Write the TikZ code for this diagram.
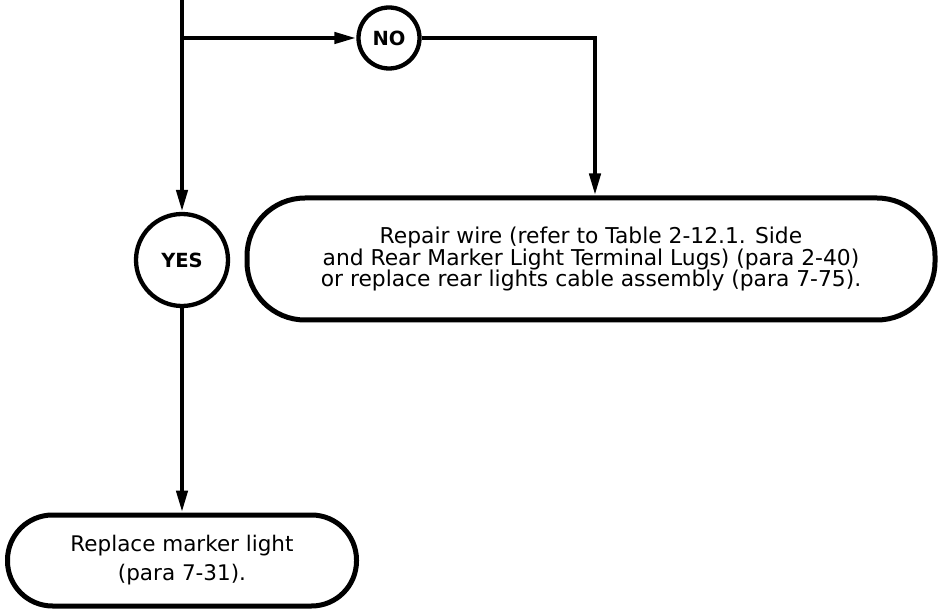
\documentclass[tikz,border=0pt]{standalone}
\usepackage{fontspec}
\setmainfont{DejaVu Sans}
\usetikzlibrary{arrows.meta}
\begin{document}
\begin{tikzpicture}[x=1pt,y=-1pt,
  conn/.style={line width=4.3pt},
  arr/.style={conn,-{Triangle[length=22pt,width=11pt]}},
  decision/.style={circle,draw,line width=4.3pt,inner sep=0pt,font=\fontsize{19.5}{22}\selectfont\bfseries},
  action/.style={draw,line width=5pt,rectangle,align=center,inner sep=0pt}]
\useasboundingbox (0,0) rectangle (943,612);
\node[decision,minimum size=61pt] (no) at (389,38) {NO};
\node[decision,minimum size=92pt] (yes) at (182,260) {YES};
\node[action,rounded corners=58pt,minimum width=688pt,minimum height=122pt,
  font=\fontsize{21.8}{21.5}\selectfont] (big) at (591,259)
  {Repair wire (refer to Table 2-12.1. Side\\and Rear Marker Light Terminal Lugs) (para 2-40)\\or replace rear lights cable assembly (para 7-75).};
\node[action,rounded corners=45pt,minimum width=349pt,minimum height=91pt,
  font=\fontsize{21.5}{29}\selectfont] (rep) at (182,560.5)
  {\raisebox{-4pt}{Replace marker light}\\\raisebox{-4pt}{(para 7-31).}};
\coordinate (top) at (182,0);
\coordinate (j) at (182,38);
\coordinate (k) at (595,38);
\draw[arr] (top) -- (yes);
\draw[arr] (j) -- (no);
\draw[arr] (no) -- (k) -- (k |- big.north);
\draw[arr] (yes) -- (rep);
\end{tikzpicture}
\end{document}
